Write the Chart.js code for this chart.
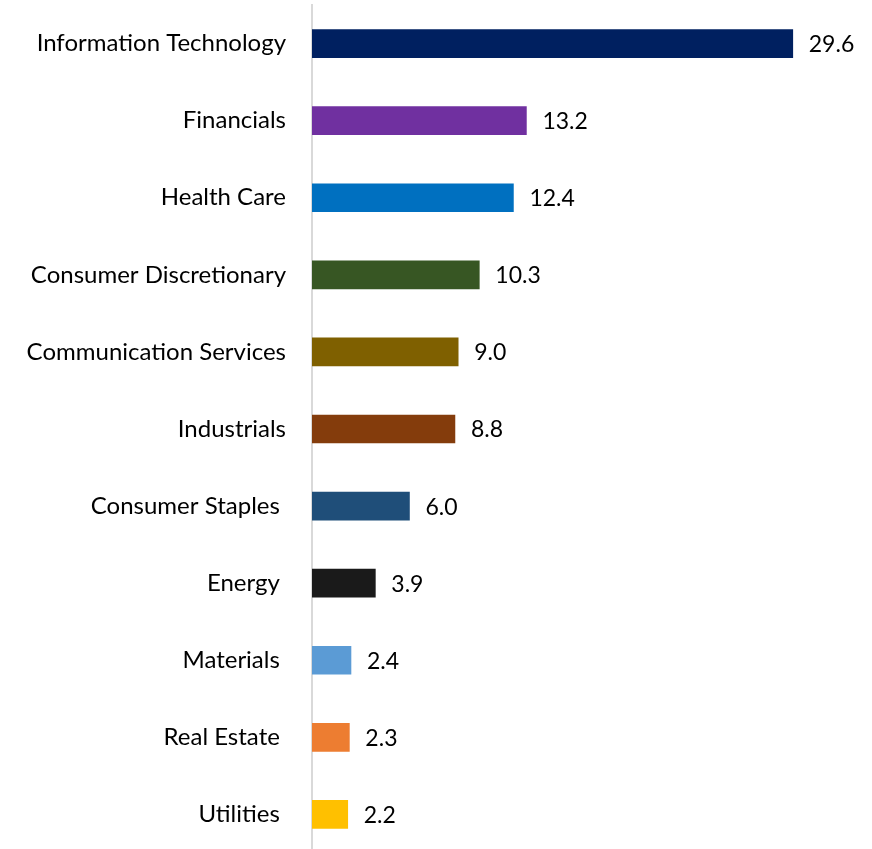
<!DOCTYPE html>
<html>
<head>
<meta charset="utf-8">
<script src="https://cdn.jsdelivr.net/npm/chart.js@4"></script>
<style>
  html, body { margin: 0; padding: 0; background: #fff; overflow: hidden; }
</style>
</head>
<body>
<canvas id="chart" width="872" height="853"></canvas>
<script>
// data
const sectors = [
  "Information Technology",
  "Financials",
  "Health Care",
  "Consumer Discretionary",
  "Communication Services",
  "Industrials",
  "Consumer Staples ",
  "Energy ",
  "Materials ",
  "Real Estate ",
  "Utilities "
];
const weights = [29.6, 13.2, 12.4, 10.3, 9.0, 8.8, 6.0, 3.9, 2.4, 2.3, 2.2];
const barColors = [
  "#002060", "#7030A0", "#0070C0", "#375623", "#7F6000", "#843C0C",
  "#1F4E79", "#1A1A1A", "#5B9BD5", "#ED7D31", "#FFC000"
];

const FONT = "Lato, Calibri, 'Open Sans', sans-serif";

// value labels at the end of each bar
const valueLabels = {
  id: "valueLabels",
  afterDatasetsDraw(chart) {
    const ctx = chart.ctx;
    const meta = chart.getDatasetMeta(0);
    ctx.save();
    ctx.font = "23px " + FONT;
    ctx.fillStyle = "#000";
    ctx.textAlign = "left";
    ctx.textBaseline = "middle";
    meta.data.forEach((bar, i) => {
      ctx.fillText(weights[i].toFixed(1), bar.x + 16, bar.y + 1);
    });
    ctx.restore();
  }
};

new Chart(document.getElementById("chart"), {
  type: "bar",
  data: {
    labels: sectors,
    datasets: [{
      data: weights,
      backgroundColor: barColors,
      barThickness: 28
    }]
  },
  options: {
    indexAxis: "y",
    responsive: false,
    animation: false,
    layout: { padding: { top: 5, right: 24, bottom: 0, left: 0 } },
    plugins: {
      legend: { display: false },
      tooltip: { enabled: false }
    },
    scales: {
      x: {
        display: false,
        min: 0,
        max: 33
      },
      y: {
        grid: { display: false, drawTicks: false },
        border: { display: true, color: "#D9D9D9", width: 2 },
        ticks: {
          color: "#000",
          padding: 26,
          font: { family: FONT, size: 24 }
        },
        afterFit(scale) {
          scale.width = 312;
          // don't let the label padding shrink the plot vertically
          scale.paddingTop = 0;
          scale.paddingBottom = 0;
        }
      }
    }
  },
  plugins: [valueLabels]
});
</script>
</body>
</html>
